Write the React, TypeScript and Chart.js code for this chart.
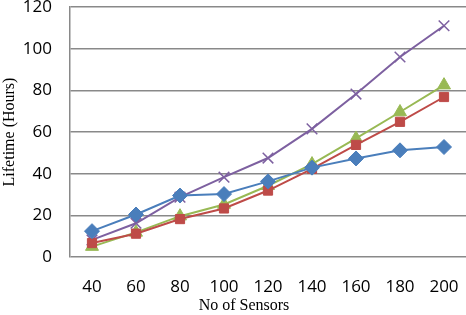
import React, { useEffect, useRef } from "react";
import { Chart, registerables } from "chart.js";

Chart.register(...registerables);

const categories = ["40", "60", "80", "100", "120", "140", "160", "180", "200"];
const seriesBlue = [12.4, 20.4, 29.5, 30.2, 36.3, 42.9, 47.3, 51.2, 52.8];
const seriesRed = [6.7, 11.2, 18.2, 23.3, 31.9, 42.3, 53.8, 64.9, 76.8];
const seriesGreen = [5.0, 11.8, 19.6, 25.2, 34.2, 44.6, 56.9, 69.6, 82.5];
const seriesPurple = [8.2, 16.2, 28.7, 38.3, 47.5, 61.5, 78.2, 96.0, 111.0];
const yTicks = [0, 20, 40, 60, 80, 100, 120];
const xTitle = "No of Sensors";

const fixArea = {
  id: "fixArea",
  afterLayout(chart: any) {
    const ca = chart.chartArea;
    ca.top = 7;
    ca.right = 466;
    ca.left = 70;
    ca.bottom = 257;
    ca.width = ca.right - ca.left;
    ca.height = ca.bottom - ca.top;
    const x = chart.scales.x;
    const y = chart.scales.y;
    x.left = 70; x.right = 466; x.width = 396; x.top = 257; x.bottom = 315;
    y.top = 7; y.bottom = 257; y.height = 250; y.left = 0; y.right = 70;
    x.configure();
    y.configure();
  },
  afterDraw(chart: any) {
    const ctx = chart.ctx;
    ctx.save();
    ctx.font = "16px 'Liberation Serif'";
    ctx.fillStyle = "#000";
    ctx.textAlign = "center";
    ctx.textBaseline = "middle";
    ctx.fillText(xTitle, 244, 306);
    ctx.restore();
  },
};

export default function App() {
  const ref = useRef<HTMLCanvasElement>(null);
  useEffect(() => {
    if (!ref.current) return;
    const mk = (data: number[], color: string, style: any, radius: number, bw: number) => ({
      data,
      borderColor: color,
      backgroundColor: color,
      borderWidth: 2,
      pointStyle: style,
      pointRadius: radius,
      pointBorderWidth: bw,
      pointBorderColor: color,
      pointBackgroundColor: color,
      tension: 0,
    });
    const chart = new Chart(ref.current, {
      type: "line",
      data: {
        labels: categories,
        datasets: [
          mk(seriesBlue, "#4A7EBB", "rectRot", 7.5, 1),
          mk(seriesRed, "#BE4B48", "rect", 6.5, 1),
          mk(seriesGreen, "#98B954", "triangle", 7.5, 1),
          mk(seriesPurple, "#7D60A0", "crossRot", 7.5, 1.5),
        ],
      },
      plugins: [fixArea],
      options: {
        animation: false,
        responsive: false,
        maintainAspectRatio: false,
        layout: { padding: 0 },
        plugins: { legend: { display: false }, tooltip: { enabled: false } },
        scales: {
          x: {
            type: "category",
            offset: true,
            grid: { display: false, drawTicks: false },
            border: { display: false },
            ticks: {
              font: { family: "Open Sans", size: 17 },
              color: "#000",
              padding: 20,
              maxRotation: 0,
              autoSkip: false,
            },
            title: { display: false },
          },
          y: {
            min: 0,
            max: 120,
            afterBuildTicks: (s: any) => {
              s.ticks = yTicks.map((v) => ({ value: v }));
            },
            grid: { color: "#898989", lineWidth: 1.5, drawTicks: false },
            border: { display: true, color: "#898989", width: 1.5 },
            ticks: {
              font: { family: "Open Sans", size: 17 },
              color: "#000",
              padding: 18,
            },
            title: {
              display: true,
              text: "Lifetime (Hours)",
              font: { family: "Liberation Serif", size: 16 },
              color: "#000",
              padding: { top: 0, bottom: 0 },
            },
          },
        },
      },
    });
    return () => chart.destroy();
  }, []);
  return (
    <div style={{ position: "fixed", left: 0, top: 0, width: 466, height: 315, background: "#fff" }}>
      <canvas ref={ref} width={466} height={315} style={{ width: 466, height: 315 }} />
    </div>
  );
}
